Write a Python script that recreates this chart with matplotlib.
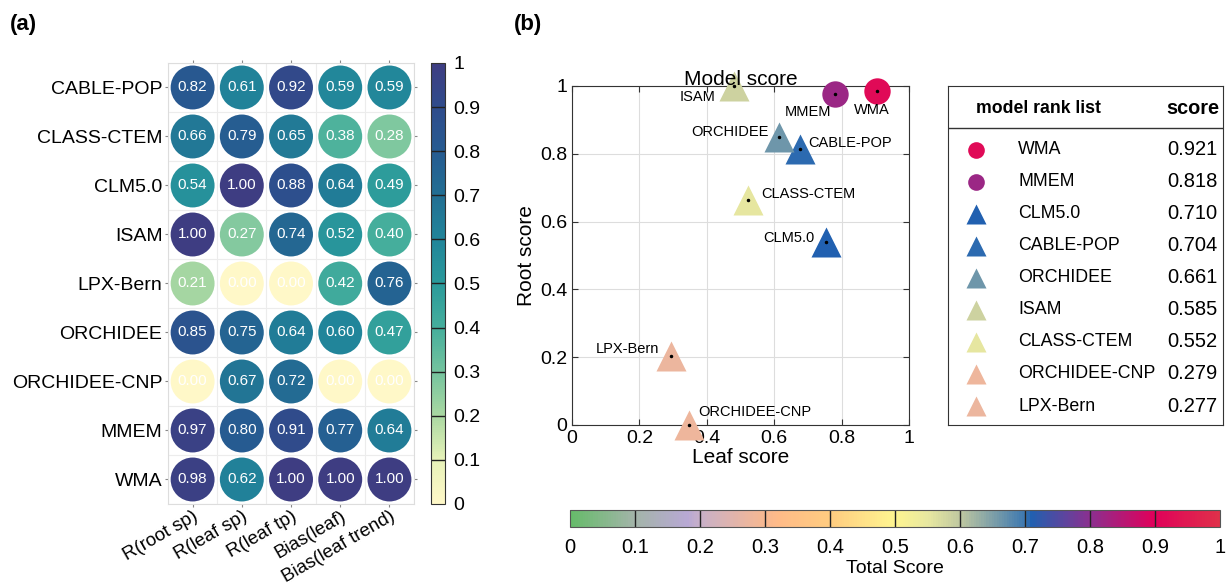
import matplotlib
matplotlib.use("Agg")

import matplotlib.pyplot as plt
import numpy as np
from matplotlib.colors import LinearSegmentedColormap, Normalize
from matplotlib.cm import ScalarMappable

plt.rcParams['font.family'] = ['Liberation Sans', 'DejaVu Sans']

# ---- data ----
models_a = ["CABLE-POP", "CLASS-CTEM", "CLM5.0", "ISAM", "LPX-Bern",
            "ORCHIDEE", "ORCHIDEE-CNP", "MMEM", "WMA"]
metrics = ["R(root sp)", "R(leaf sp)", "R(leaf tp)", "Bias(leaf)", "Bias(leaf trend)"]
scores_a = [
    [0.82, 0.61, 0.92, 0.59, 0.59],
    [0.66, 0.79, 0.65, 0.38, 0.28],
    [0.54, 1.00, 0.88, 0.64, 0.49],
    [1.00, 0.27, 0.74, 0.52, 0.40],
    [0.21, 0.00, 0.00, 0.42, 0.76],
    [0.85, 0.75, 0.64, 0.60, 0.47],
    [0.00, 0.67, 0.72, 0.00, 0.00],
    [0.97, 0.80, 0.91, 0.77, 0.64],
    [0.98, 0.62, 1.00, 1.00, 1.00],
]

rank_models = ["WMA", "MMEM", "CLM5.0", "CABLE-POP", "ORCHIDEE", "ISAM",
               "CLASS-CTEM", "ORCHIDEE-CNP", "LPX-Bern"]
total_score = [0.921, 0.818, 0.710, 0.704, 0.661, 0.585, 0.552, 0.279, 0.277]
leaf_score = [0.905, 0.78, 0.754, 0.677, 0.615, 0.48, 0.523, 0.347, 0.294]
root_score = [0.985, 0.975, 0.54, 0.815, 0.85, 1.0, 0.664, 0.0, 0.204]
marker_shape = ["o", "o", "^", "^", "^", "^", "^", "^", "^"]
# label offsets in pixels and alignment
label_off = [(-5, -19, "center"), (-27, -18, "center"), (-12, 4, "right"),
             (8, 6, "left"), (-11, 5, "right"), (-36, -11, "center"),
             (13, 6, "left"), (9, 13, "left"), (-12, 7, "right")]

# ---- colormaps ----
cmap_a = LinearSegmentedColormap.from_list("a", [
    (0.0, "#fff8c8"), (0.1, "#e6f1b8"), (0.2, "#a9d8a2"), (0.3, "#74c39e"),
    (0.4, "#45ae9c"), (0.5, "#2a9a9b"), (0.6, "#21859a"), (0.7, "#226f93"),
    (0.8, "#265b91"), (0.9, "#2f4c8c"), (1.0, "#3e3d82")])

cmap_b = LinearSegmentedColormap.from_list("b", [
    (0.0, "#66bb6a"), (0.1, "#a4b4aa"), (0.18, "#b8a8d4"), (0.2, "#c8b0c8"),
    (0.3, "#f8b890"), (0.32, "#ffbb88"), (0.4, "#ffcc80"), (0.5, "#fff590"),
    (0.55, "#e8e8a0"), (0.6, "#c0c8a0"), (0.7, "#3d78b0"), (0.71, "#2060b0"),
    (0.8, "#8a3090"), (0.9, "#e0005a"), (1.0, "#e0304a")])

fig = plt.figure(figsize=(12.29, 5.87), dpi=100)

# ---- panel (a) ----
ax = fig.add_axes([0.1367, 0.1414, 0.2002, 0.7513])
vals = np.array(scores_a)
nr, nc = vals.shape
xx, yy = np.meshgrid(np.arange(nc), np.arange(nr))
ax.scatter(xx.ravel(), yy.ravel(), s=1000, c=vals.ravel(), cmap=cmap_a,
           vmin=0, vmax=1, edgecolors="none", zorder=3)
for i in range(nr):
    for j in range(nc):
        ax.text(j, i, f"{vals[i, j]:.2f}", ha="center", va="center",
                color="white", fontsize=11, zorder=4)
ax.set_xlim(-0.5, nc - 0.5)
ax.set_ylim(nr - 0.5, -0.5)
ax.set_xticks(range(nc))
ax.set_xticklabels(metrics, rotation=30, ha="right", rotation_mode="anchor", fontsize=13.5)
ax.set_yticks(range(nr))
ax.set_yticklabels(models_a, fontsize=14)
ax.set_xticks(np.arange(-0.5, nc), minor=True)
ax.set_yticks(np.arange(-0.5, nr), minor=True)
ax.grid(which="minor", color="#ececec", lw=0.8)
ax.tick_params(which="minor", length=0)
ax.tick_params(which="major", length=2, color="#888888", top=True, right=True,
               pad=2)
ax.tick_params(axis="x", pad=1)
for s in ax.spines.values():
    s.set_color("#dddddd")

cax = fig.add_axes([0.3507, 0.1414, 0.0114, 0.7513])
cb = fig.colorbar(ScalarMappable(Normalize(0, 1), cmap_a), cax=cax,
                  ticks=np.arange(0, 1.01, 0.1))
cb.ax.set_yticklabels([f"{t:g}" for t in np.round(np.arange(0, 1.01, 0.1), 1)], fontsize=14)
cb.ax.tick_params(length=0, pad=6)
for t in np.arange(0.1, 1.0, 0.1):
    cb.ax.axhline(t, color="#222222", lw=1)
cb.outline.set_edgecolor("#333333")

# ---- panel (b) ----
bx = fig.add_axes([0.4654, 0.276, 0.2742, 0.5775])
for k, name in enumerate(rank_models):
    col = cmap_b(total_score[k])
    ms = 19 if marker_shape[k] == "o" else 21
    bx.plot(leaf_score[k], root_score[k], marker=marker_shape[k], ms=ms,
            color=col, mec="none", clip_on=False, zorder=3)
    bx.plot(leaf_score[k], root_score[k], marker=".", ms=3, color="black",
            clip_on=False, zorder=4)
    dx, dy, ha = label_off[k]
    bx.annotate(name, (leaf_score[k], root_score[k]), xytext=(dx, dy),
                textcoords="offset pixels", ha=ha, va="center", fontsize=10.5,
                zorder=5)
bx.set_xlim(0, 1)
bx.set_ylim(0, 1)
bx.set_xticks(np.arange(0, 1.01, 0.2))
bx.set_yticks(np.arange(0, 1.01, 0.2))
bx.set_xticklabels(["0", "0.2", "0.4", "0.6", "0.8", "1"])
bx.set_yticklabels(["0", "0.2", "0.4", "0.6", "0.8", "1"])
bx.tick_params(direction="in", length=4, labelsize=14, top=True, right=True,
               color="#333333")
bx.grid(color="#dddddd", lw=0.8)
bx.set_axisbelow(True)
for s in bx.spines.values():
    s.set_color("#333333")
bx.set_xlabel("Leaf score", fontsize=15, labelpad=1)
bx.set_ylabel("Root score", fontsize=15, labelpad=3)
bx.set_title("Model score", fontsize=15, pad=1)

# ---- rank table ----
lx = fig.add_axes([0.7714, 0.276, 0.2238, 0.5775])
lx.set_xlim(0, 1)
lx.set_ylim(0, 1)
lx.set_xticks([])
lx.set_yticks([])
for s in lx.spines.values():
    s.set_color("#333333")
lx.text(0.33, 0.935, "model rank list", ha="center", va="center",
        fontsize=12.7, fontweight="bold")
lx.text(0.985, 0.935, "score", ha="right", va="center", fontsize=14.3,
        fontweight="bold")
lx.axhline(0.877, color="#333333", lw=1)
row_y = 0.812 - np.arange(len(rank_models)) * 0.0945
for k, name in enumerate(rank_models):
    ms = 12 if marker_shape[k] == "o" else 14
    lx.plot(0.1, row_y[k], marker=marker_shape[k], ms=ms,
            color=cmap_b(total_score[k]), mec="none")
    lx.text(0.255, row_y[k], name, ha="left", va="center", fontsize=12.8)
    lx.text(0.98, row_y[k], f"{total_score[k]:.3f}", ha="right", va="center",
            fontsize=14.5)

# ---- total score colorbar ----
tax = fig.add_axes([0.4638, 0.1022, 0.5289, 0.029])
cb2 = fig.colorbar(ScalarMappable(Normalize(0, 1), cmap_b), cax=tax,
                   orientation="horizontal", ticks=np.arange(0, 1.01, 0.1))
cb2.ax.set_xticklabels([f"{t:g}" for t in np.round(np.arange(0, 1.01, 0.1), 1)], fontsize=14.5)
cb2.ax.tick_params(length=0, pad=8)
for t in np.arange(0.1, 1.0, 0.1):
    cb2.ax.axvline(t, color="#222222", lw=1)
cb2.outline.set_edgecolor("#555555")
cb2.set_label("Total Score", fontsize=14, labelpad=2)

# ---- panel labels ----
fig.text(0.008, 0.958, "(a)", fontsize=16, fontweight="bold", va="center")
fig.text(0.418, 0.958, "(b)", fontsize=16, fontweight="bold", va="center")

fig.savefig("out.png", dpi=100)
